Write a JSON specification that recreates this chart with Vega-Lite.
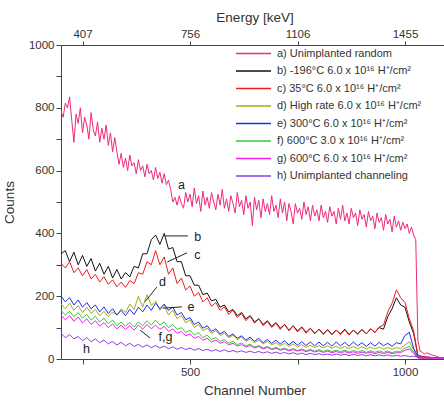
{
  "$schema": "https://vega.github.io/schema/vega-lite/v6.json",
  "width": 387,
  "height": 314,
  "autosize": {"type": "none"},
  "padding": {"left": 61, "top": 45, "right": 0, "bottom": 45},
  "config": {
    "font": "Liberation Sans",
    "view": {"stroke": null},
    "axis": {"grid": false, "domainColor": "#444", "tickColor": "#444", "labelColor": "#333", "titleColor": "#333", "labelFontSize": 11.5, "titleFontSize": 13.5, "titleFontWeight": "normal", "tickSize": 5, "labelFlush": false}
  },
  "datasets": {
    "names": [
      {"s": "a", "label": "a) Unimplanted random"},
      {"s": "b", "label": "b) -196°C 6.0 x 10¹⁶ H⁺/cm²"},
      {"s": "c", "label": "c) 35°C 6.0 x 10¹⁶ H⁺/cm²"},
      {"s": "d", "label": "d) High rate 6.0 x 10¹⁶ H⁺/cm²"},
      {"s": "e", "label": "e) 300°C 6.0 x 10¹⁶ H⁺/cm²"},
      {"s": "f", "label": "f)  600°C 3.0 x 10¹⁶ H⁺/cm²"},
      {"s": "g", "label": "g) 600°C 6.0 x 10¹⁶ H⁺/cm²"},
      {"s": "h", "label": "h) Unimplanted channeling"}
    ],
    "notes": [
      {"c": 472, "n": 554, "t": "a"},
      {"c": 510, "n": 389, "t": "b"},
      {"c": 510, "n": 331, "t": "c"},
      {"c": 428, "n": 245, "t": "d"},
      {"c": 494, "n": 166, "t": "e"},
      {"c": 427, "n": 70, "t": "f,g"},
      {"c": 251, "n": 32, "t": "h"}
    ],
    "arrows": [
      {"c": 495, "n": 392, "c2": 442, "n2": 392},
      {"c": 493, "n": 338, "c2": 447, "n2": 309},
      {"c": 423, "n": 229, "c2": 395, "n2": 182},
      {"c": 481, "n": 166, "c2": 437, "n2": 162},
      {"c": 407, "n": 67, "c2": 384, "n2": 92}
    ],
    "spectra": [
      {"s":"a","c":200,"n":790},{"s":"a","c":205,"n":770},{"s":"a","c":210,"n":815},{"s":"a","c":215,"n":800},{"s":"a","c":220,"n":835},{"s":"a","c":225,"n":760},{"s":"a","c":230,"n":690},{"s":"a","c":235,"n":780},{"s":"a","c":240,"n":750},{"s":"a","c":245,"n":800},
      {"s":"a","c":250,"n":720},{"s":"a","c":255,"n":770},{"s":"a","c":260,"n":745},{"s":"a","c":265,"n":700},{"s":"a","c":270,"n":785},{"s":"a","c":275,"n":730},{"s":"a","c":280,"n":710},{"s":"a","c":285,"n":755},{"s":"a","c":290,"n":690},{"s":"a","c":295,"n":735},
      {"s":"a","c":300,"n":700},{"s":"a","c":305,"n":745},{"s":"a","c":310,"n":680},{"s":"a","c":315,"n":720},{"s":"a","c":320,"n":660},{"s":"a","c":325,"n":705},{"s":"a","c":330,"n":660},{"s":"a","c":335,"n":620},{"s":"a","c":340,"n":655},{"s":"a","c":345,"n":610},
      {"s":"a","c":350,"n":640},{"s":"a","c":355,"n":600},{"s":"a","c":360,"n":650},{"s":"a","c":365,"n":615},{"s":"a","c":370,"n":625},{"s":"a","c":375,"n":590},{"s":"a","c":380,"n":635},{"s":"a","c":385,"n":600},{"s":"a","c":390,"n":615},{"s":"a","c":395,"n":580},
      {"s":"a","c":400,"n":620},{"s":"a","c":405,"n":590},{"s":"a","c":410,"n":600},{"s":"a","c":415,"n":570},{"s":"a","c":420,"n":610},{"s":"a","c":425,"n":575},{"s":"a","c":430,"n":595},{"s":"a","c":435,"n":560},{"s":"a","c":440,"n":590},{"s":"a","c":445,"n":555},
      {"s":"a","c":450,"n":570},{"s":"a","c":455,"n":540},{"s":"a","c":460,"n":500},{"s":"a","c":465,"n":515},{"s":"a","c":470,"n":490},{"s":"a","c":475,"n":520},{"s":"a","c":480,"n":495},{"s":"a","c":485,"n":480},{"s":"a","c":490,"n":530},{"s":"a","c":495,"n":500},
      {"s":"a","c":500,"n":525},{"s":"a","c":505,"n":485},{"s":"a","c":510,"n":545},{"s":"a","c":515,"n":495},{"s":"a","c":520,"n":520},{"s":"a","c":525,"n":470},{"s":"a","c":530,"n":535},{"s":"a","c":535,"n":490},{"s":"a","c":540,"n":515},{"s":"a","c":545,"n":480},
      {"s":"a","c":550,"n":530},{"s":"a","c":555,"n":500},{"s":"a","c":560,"n":475},{"s":"a","c":565,"n":525},{"s":"a","c":570,"n":490},{"s":"a","c":575,"n":540},{"s":"a","c":580,"n":480},{"s":"a","c":585,"n":510},{"s":"a","c":590,"n":470},{"s":"a","c":595,"n":520},
      {"s":"a","c":600,"n":495},{"s":"a","c":605,"n":465},{"s":"a","c":610,"n":530},{"s":"a","c":615,"n":485},{"s":"a","c":620,"n":505},{"s":"a","c":625,"n":460},{"s":"a","c":630,"n":520},{"s":"a","c":635,"n":480},{"s":"a","c":640,"n":500},{"s":"a","c":645,"n":425},
      {"s":"a","c":650,"n":515},{"s":"a","c":655,"n":475},{"s":"a","c":660,"n":505},{"s":"a","c":665,"n":450},{"s":"a","c":670,"n":510},{"s":"a","c":675,"n":470},{"s":"a","c":680,"n":495},{"s":"a","c":685,"n":460},{"s":"a","c":690,"n":520},{"s":"a","c":695,"n":470},
      {"s":"a","c":700,"n":490},{"s":"a","c":705,"n":450},{"s":"a","c":710,"n":510},{"s":"a","c":715,"n":465},{"s":"a","c":720,"n":500},{"s":"a","c":725,"n":440},{"s":"a","c":730,"n":495},{"s":"a","c":735,"n":470},{"s":"a","c":740,"n":430},{"s":"a","c":745,"n":495},
      {"s":"a","c":750,"n":465},{"s":"a","c":755,"n":480},{"s":"a","c":760,"n":445},{"s":"a","c":765,"n":500},{"s":"a","c":770,"n":460},{"s":"a","c":775,"n":485},{"s":"a","c":780,"n":440},{"s":"a","c":785,"n":490},{"s":"a","c":790,"n":455},{"s":"a","c":795,"n":475},
      {"s":"a","c":800,"n":440},{"s":"a","c":805,"n":490},{"s":"a","c":810,"n":450},{"s":"a","c":815,"n":470},{"s":"a","c":820,"n":435},{"s":"a","c":825,"n":485},{"s":"a","c":830,"n":455},{"s":"a","c":835,"n":470},{"s":"a","c":840,"n":430},{"s":"a","c":845,"n":480},
      {"s":"a","c":850,"n":445},{"s":"a","c":855,"n":490},{"s":"a","c":860,"n":440},{"s":"a","c":865,"n":465},{"s":"a","c":870,"n":430},{"s":"a","c":875,"n":480},{"s":"a","c":880,"n":450},{"s":"a","c":885,"n":465},{"s":"a","c":890,"n":425},{"s":"a","c":895,"n":475},
      {"s":"a","c":900,"n":445},{"s":"a","c":905,"n":460},{"s":"a","c":910,"n":420},{"s":"a","c":915,"n":470},{"s":"a","c":920,"n":440},{"s":"a","c":925,"n":455},{"s":"a","c":930,"n":415},{"s":"a","c":935,"n":465},{"s":"a","c":940,"n":435},{"s":"a","c":945,"n":450},
      {"s":"a","c":950,"n":410},{"s":"a","c":955,"n":460},{"s":"a","c":960,"n":430},{"s":"a","c":965,"n":445},{"s":"a","c":970,"n":405},{"s":"a","c":975,"n":455},{"s":"a","c":980,"n":420},{"s":"a","c":985,"n":440},{"s":"a","c":990,"n":410},{"s":"a","c":995,"n":435},
      {"s":"a","c":1000,"n":415},{"s":"a","c":1005,"n":430},{"s":"a","c":1010,"n":400},{"s":"a","c":1015,"n":420},{"s":"a","c":1020,"n":395},{"s":"a","c":1025,"n":380},{"s":"a","c":1030,"n":60},{"s":"a","c":1035,"n":25},{"s":"a","c":1040,"n":22},{"s":"a","c":1045,"n":15},
      {"s":"a","c":1050,"n":20},{"s":"a","c":1060,"n":14},{"s":"a","c":1070,"n":10},{"s":"a","c":1080,"n":5},{"s":"a","c":1090,"n":3},

      {"s":"b","c":200,"n":335},{"s":"b","c":210,"n":345},{"s":"b","c":220,"n":310},{"s":"b","c":230,"n":340},{"s":"b","c":240,"n":300},{"s":"b","c":250,"n":330},{"s":"b","c":260,"n":295},{"s":"b","c":270,"n":320},{"s":"b","c":280,"n":280},{"s":"b","c":290,"n":305},
      {"s":"b","c":300,"n":270},{"s":"b","c":310,"n":295},{"s":"b","c":320,"n":258},{"s":"b","c":330,"n":285},{"s":"b","c":340,"n":255},{"s":"b","c":350,"n":275},{"s":"b","c":360,"n":262},{"s":"b","c":370,"n":295},{"s":"b","c":380,"n":290},{"s":"b","c":390,"n":335},
      {"s":"b","c":400,"n":335},{"s":"b","c":410,"n":380},{"s":"b","c":420,"n":395},{"s":"b","c":430,"n":365},{"s":"b","c":440,"n":400},{"s":"b","c":450,"n":350},{"s":"b","c":460,"n":355},{"s":"b","c":470,"n":310},{"s":"b","c":480,"n":310},{"s":"b","c":490,"n":265},
      {"s":"b","c":500,"n":265},{"s":"b","c":510,"n":235},{"s":"b","c":520,"n":235},{"s":"b","c":530,"n":205},{"s":"b","c":540,"n":210},{"s":"b","c":550,"n":185},{"s":"b","c":560,"n":190},{"s":"b","c":570,"n":165},{"s":"b","c":580,"n":172},{"s":"b","c":590,"n":150},
      {"s":"b","c":600,"n":158},{"s":"b","c":610,"n":138},{"s":"b","c":620,"n":148},{"s":"b","c":630,"n":128},{"s":"b","c":640,"n":138},{"s":"b","c":650,"n":118},{"s":"b","c":660,"n":128},{"s":"b","c":670,"n":110},{"s":"b","c":680,"n":122},{"s":"b","c":690,"n":104},
      {"s":"b","c":700,"n":116},{"s":"b","c":710,"n":98},{"s":"b","c":720,"n":110},{"s":"b","c":730,"n":92},{"s":"b","c":740,"n":106},{"s":"b","c":750,"n":90},{"s":"b","c":760,"n":102},{"s":"b","c":770,"n":85},{"s":"b","c":780,"n":98},{"s":"b","c":790,"n":82},
      {"s":"b","c":800,"n":95},{"s":"b","c":810,"n":80},{"s":"b","c":820,"n":94},{"s":"b","c":830,"n":78},{"s":"b","c":840,"n":92},{"s":"b","c":850,"n":80},{"s":"b","c":860,"n":95},{"s":"b","c":870,"n":78},{"s":"b","c":880,"n":92},{"s":"b","c":890,"n":80},
      {"s":"b","c":900,"n":94},{"s":"b","c":910,"n":80},{"s":"b","c":920,"n":96},{"s":"b","c":930,"n":85},{"s":"b","c":940,"n":100},{"s":"b","c":950,"n":95},{"s":"b","c":960,"n":135},{"s":"b","c":970,"n":160},{"s":"b","c":980,"n":195},{"s":"b","c":990,"n":172},
      {"s":"b","c":1000,"n":165},{"s":"b","c":1010,"n":118},{"s":"b","c":1020,"n":82},{"s":"b","c":1030,"n":10},{"s":"b","c":1040,"n":8},{"s":"b","c":1050,"n":6},{"s":"b","c":1060,"n":5},{"s":"b","c":1070,"n":4},{"s":"b","c":1080,"n":3},{"s":"b","c":1090,"n":2},

      {"s":"c","c":200,"n":305},{"s":"c","c":210,"n":290},{"s":"c","c":220,"n":310},{"s":"c","c":230,"n":275},{"s":"c","c":240,"n":290},{"s":"c","c":250,"n":265},{"s":"c","c":260,"n":285},{"s":"c","c":270,"n":255},{"s":"c","c":280,"n":270},{"s":"c","c":290,"n":245},
      {"s":"c","c":300,"n":262},{"s":"c","c":310,"n":238},{"s":"c","c":320,"n":252},{"s":"c","c":330,"n":230},{"s":"c","c":340,"n":245},{"s":"c","c":350,"n":228},{"s":"c","c":360,"n":250},{"s":"c","c":370,"n":240},{"s":"c","c":380,"n":275},{"s":"c","c":390,"n":270},
      {"s":"c","c":400,"n":310},{"s":"c","c":410,"n":300},{"s":"c","c":420,"n":345},{"s":"c","c":430,"n":300},{"s":"c","c":440,"n":325},{"s":"c","c":450,"n":270},{"s":"c","c":460,"n":290},{"s":"c","c":470,"n":240},{"s":"c","c":480,"n":258},{"s":"c","c":490,"n":220},
      {"s":"c","c":500,"n":232},{"s":"c","c":510,"n":200},{"s":"c","c":520,"n":212},{"s":"c","c":530,"n":182},{"s":"c","c":540,"n":195},{"s":"c","c":550,"n":168},{"s":"c","c":560,"n":180},{"s":"c","c":570,"n":155},{"s":"c","c":580,"n":166},{"s":"c","c":590,"n":142},
      {"s":"c","c":600,"n":155},{"s":"c","c":610,"n":132},{"s":"c","c":620,"n":145},{"s":"c","c":630,"n":122},{"s":"c","c":640,"n":136},{"s":"c","c":650,"n":114},{"s":"c","c":660,"n":128},{"s":"c","c":670,"n":106},{"s":"c","c":680,"n":120},{"s":"c","c":690,"n":100},
      {"s":"c","c":700,"n":114},{"s":"c","c":710,"n":94},{"s":"c","c":720,"n":110},{"s":"c","c":730,"n":90},{"s":"c","c":740,"n":105},{"s":"c","c":750,"n":86},{"s":"c","c":760,"n":100},{"s":"c","c":770,"n":82},{"s":"c","c":780,"n":97},{"s":"c","c":790,"n":80},
      {"s":"c","c":800,"n":95},{"s":"c","c":810,"n":78},{"s":"c","c":820,"n":93},{"s":"c","c":830,"n":77},{"s":"c","c":840,"n":92},{"s":"c","c":850,"n":78},{"s":"c","c":860,"n":93},{"s":"c","c":870,"n":76},{"s":"c","c":880,"n":92},{"s":"c","c":890,"n":78},
      {"s":"c","c":900,"n":94},{"s":"c","c":910,"n":80},{"s":"c","c":920,"n":96},{"s":"c","c":930,"n":84},{"s":"c","c":940,"n":102},{"s":"c","c":950,"n":108},{"s":"c","c":960,"n":150},{"s":"c","c":970,"n":178},{"s":"c","c":980,"n":220},{"s":"c","c":990,"n":195},
      {"s":"c","c":1000,"n":180},{"s":"c","c":1010,"n":128},{"s":"c","c":1020,"n":90},{"s":"c","c":1030,"n":12},{"s":"c","c":1040,"n":8},{"s":"c","c":1050,"n":6},{"s":"c","c":1060,"n":5},{"s":"c","c":1070,"n":4},{"s":"c","c":1080,"n":3},{"s":"c","c":1090,"n":2},

      {"s":"d","c":200,"n":175},{"s":"d","c":210,"n":160},{"s":"d","c":220,"n":178},{"s":"d","c":230,"n":155},{"s":"d","c":240,"n":170},{"s":"d","c":250,"n":148},{"s":"d","c":260,"n":165},{"s":"d","c":270,"n":145},{"s":"d","c":280,"n":158},{"s":"d","c":290,"n":138},
      {"s":"d","c":300,"n":152},{"s":"d","c":310,"n":135},{"s":"d","c":320,"n":150},{"s":"d","c":330,"n":140},{"s":"d","c":340,"n":160},{"s":"d","c":350,"n":148},{"s":"d","c":360,"n":175},{"s":"d","c":370,"n":158},{"s":"d","c":380,"n":200},{"s":"d","c":390,"n":165},
      {"s":"d","c":400,"n":205},{"s":"d","c":410,"n":170},{"s":"d","c":420,"n":185},{"s":"d","c":430,"n":155},{"s":"d","c":440,"n":172},{"s":"d","c":450,"n":140},{"s":"d","c":460,"n":155},{"s":"d","c":470,"n":128},{"s":"d","c":480,"n":138},{"s":"d","c":490,"n":115},
      {"s":"d","c":500,"n":125},{"s":"d","c":510,"n":100},{"s":"d","c":520,"n":110},{"s":"d","c":530,"n":90},{"s":"d","c":540,"n":98},{"s":"d","c":550,"n":82},{"s":"d","c":560,"n":90},{"s":"d","c":570,"n":75},{"s":"d","c":580,"n":82},{"s":"d","c":590,"n":68},
      {"s":"d","c":600,"n":76},{"s":"d","c":610,"n":62},{"s":"d","c":620,"n":70},{"s":"d","c":630,"n":56},{"s":"d","c":640,"n":64},{"s":"d","c":650,"n":52},{"s":"d","c":660,"n":60},{"s":"d","c":670,"n":48},{"s":"d","c":680,"n":56},{"s":"d","c":690,"n":45},
      {"s":"d","c":700,"n":52},{"s":"d","c":710,"n":42},{"s":"d","c":720,"n":50},{"s":"d","c":730,"n":40},{"s":"d","c":740,"n":48},{"s":"d","c":750,"n":38},{"s":"d","c":760,"n":46},{"s":"d","c":770,"n":37},{"s":"d","c":780,"n":44},{"s":"d","c":790,"n":36},
      {"s":"d","c":800,"n":43},{"s":"d","c":810,"n":35},{"s":"d","c":820,"n":42},{"s":"d","c":830,"n":34},{"s":"d","c":840,"n":41},{"s":"d","c":850,"n":34},{"s":"d","c":860,"n":40},{"s":"d","c":870,"n":33},{"s":"d","c":880,"n":40},{"s":"d","c":890,"n":33},
      {"s":"d","c":900,"n":39},{"s":"d","c":910,"n":32},{"s":"d","c":920,"n":38},{"s":"d","c":930,"n":32},{"s":"d","c":940,"n":38},{"s":"d","c":950,"n":31},{"s":"d","c":960,"n":37},{"s":"d","c":970,"n":31},{"s":"d","c":980,"n":36},{"s":"d","c":990,"n":34},
      {"s":"d","c":1000,"n":45},{"s":"d","c":1010,"n":55},{"s":"d","c":1020,"n":30},{"s":"d","c":1030,"n":5},{"s":"d","c":1040,"n":3},{"s":"d","c":1050,"n":3},{"s":"d","c":1060,"n":3},{"s":"d","c":1070,"n":3},{"s":"d","c":1080,"n":3},{"s":"d","c":1090,"n":3},

      {"s":"e","c":200,"n":200},{"s":"e","c":210,"n":182},{"s":"e","c":220,"n":195},{"s":"e","c":230,"n":172},{"s":"e","c":240,"n":188},{"s":"e","c":250,"n":165},{"s":"e","c":260,"n":180},{"s":"e","c":270,"n":160},{"s":"e","c":280,"n":172},{"s":"e","c":290,"n":150},
      {"s":"e","c":300,"n":166},{"s":"e","c":310,"n":145},{"s":"e","c":320,"n":160},{"s":"e","c":330,"n":140},{"s":"e","c":340,"n":155},{"s":"e","c":350,"n":138},{"s":"e","c":360,"n":158},{"s":"e","c":370,"n":142},{"s":"e","c":380,"n":165},{"s":"e","c":390,"n":150},
      {"s":"e","c":400,"n":172},{"s":"e","c":410,"n":155},{"s":"e","c":420,"n":178},{"s":"e","c":430,"n":160},{"s":"e","c":440,"n":175},{"s":"e","c":450,"n":155},{"s":"e","c":460,"n":165},{"s":"e","c":470,"n":140},{"s":"e","c":480,"n":148},{"s":"e","c":490,"n":125},
      {"s":"e","c":500,"n":132},{"s":"e","c":510,"n":110},{"s":"e","c":520,"n":118},{"s":"e","c":530,"n":98},{"s":"e","c":540,"n":106},{"s":"e","c":550,"n":88},{"s":"e","c":560,"n":96},{"s":"e","c":570,"n":80},{"s":"e","c":580,"n":88},{"s":"e","c":590,"n":72},
      {"s":"e","c":600,"n":80},{"s":"e","c":610,"n":66},{"s":"e","c":620,"n":74},{"s":"e","c":630,"n":60},{"s":"e","c":640,"n":70},{"s":"e","c":650,"n":56},{"s":"e","c":660,"n":66},{"s":"e","c":670,"n":52},{"s":"e","c":680,"n":62},{"s":"e","c":690,"n":50},
      {"s":"e","c":700,"n":60},{"s":"e","c":710,"n":48},{"s":"e","c":720,"n":58},{"s":"e","c":730,"n":45},{"s":"e","c":740,"n":56},{"s":"e","c":750,"n":44},{"s":"e","c":760,"n":55},{"s":"e","c":770,"n":43},{"s":"e","c":780,"n":54},{"s":"e","c":790,"n":42},
      {"s":"e","c":800,"n":54},{"s":"e","c":810,"n":42},{"s":"e","c":820,"n":53},{"s":"e","c":830,"n":41},{"s":"e","c":840,"n":54},{"s":"e","c":850,"n":42},{"s":"e","c":860,"n":53},{"s":"e","c":870,"n":41},{"s":"e","c":880,"n":54},{"s":"e","c":890,"n":42},
      {"s":"e","c":900,"n":52},{"s":"e","c":910,"n":40},{"s":"e","c":920,"n":52},{"s":"e","c":930,"n":41},{"s":"e","c":940,"n":53},{"s":"e","c":950,"n":42},{"s":"e","c":960,"n":50},{"s":"e","c":970,"n":40},{"s":"e","c":980,"n":52},{"s":"e","c":990,"n":48},
      {"s":"e","c":1000,"n":75},{"s":"e","c":1010,"n":85},{"s":"e","c":1020,"n":35},{"s":"e","c":1030,"n":6},{"s":"e","c":1040,"n":3},{"s":"e","c":1050,"n":3},{"s":"e","c":1060,"n":3},{"s":"e","c":1070,"n":3},{"s":"e","c":1080,"n":3},{"s":"e","c":1090,"n":3},

      {"s":"f","c":200,"n":155},{"s":"f","c":210,"n":140},{"s":"f","c":220,"n":152},{"s":"f","c":230,"n":135},{"s":"f","c":240,"n":148},{"s":"f","c":250,"n":130},{"s":"f","c":260,"n":142},{"s":"f","c":270,"n":124},{"s":"f","c":280,"n":136},{"s":"f","c":290,"n":118},
      {"s":"f","c":300,"n":130},{"s":"f","c":310,"n":112},{"s":"f","c":320,"n":124},{"s":"f","c":330,"n":106},{"s":"f","c":340,"n":118},{"s":"f","c":350,"n":104},{"s":"f","c":360,"n":116},{"s":"f","c":370,"n":102},{"s":"f","c":380,"n":118},{"s":"f","c":390,"n":106},
      {"s":"f","c":400,"n":122},{"s":"f","c":410,"n":108},{"s":"f","c":420,"n":124},{"s":"f","c":430,"n":108},{"s":"f","c":440,"n":118},{"s":"f","c":450,"n":100},{"s":"f","c":460,"n":110},{"s":"f","c":470,"n":94},{"s":"f","c":480,"n":100},{"s":"f","c":490,"n":84},
      {"s":"f","c":500,"n":92},{"s":"f","c":510,"n":76},{"s":"f","c":520,"n":84},{"s":"f","c":530,"n":68},{"s":"f","c":540,"n":76},{"s":"f","c":550,"n":62},{"s":"f","c":560,"n":68},{"s":"f","c":570,"n":56},{"s":"f","c":580,"n":62},{"s":"f","c":590,"n":50},
      {"s":"f","c":600,"n":56},{"s":"f","c":610,"n":46},{"s":"f","c":620,"n":51},{"s":"f","c":630,"n":42},{"s":"f","c":640,"n":47},{"s":"f","c":650,"n":38},{"s":"f","c":660,"n":43},{"s":"f","c":670,"n":35},{"s":"f","c":680,"n":40},{"s":"f","c":690,"n":32},
      {"s":"f","c":700,"n":37},{"s":"f","c":710,"n":30},{"s":"f","c":720,"n":35},{"s":"f","c":730,"n":28},{"s":"f","c":740,"n":33},{"s":"f","c":750,"n":27},{"s":"f","c":760,"n":32},{"s":"f","c":770,"n":26},{"s":"f","c":780,"n":31},{"s":"f","c":790,"n":25},
      {"s":"f","c":800,"n":30},{"s":"f","c":810,"n":24},{"s":"f","c":820,"n":29},{"s":"f","c":830,"n":23},{"s":"f","c":840,"n":28},{"s":"f","c":850,"n":23},{"s":"f","c":860,"n":28},{"s":"f","c":870,"n":22},{"s":"f","c":880,"n":27},{"s":"f","c":890,"n":22},
      {"s":"f","c":900,"n":27},{"s":"f","c":910,"n":21},{"s":"f","c":920,"n":26},{"s":"f","c":930,"n":21},{"s":"f","c":940,"n":26},{"s":"f","c":950,"n":21},{"s":"f","c":960,"n":25},{"s":"f","c":970,"n":20},{"s":"f","c":980,"n":25},{"s":"f","c":990,"n":24},
      {"s":"f","c":1000,"n":35},{"s":"f","c":1010,"n":40},{"s":"f","c":1020,"n":22},{"s":"f","c":1030,"n":4},{"s":"f","c":1040,"n":2},{"s":"f","c":1050,"n":2},{"s":"f","c":1060,"n":2},{"s":"f","c":1070,"n":2},{"s":"f","c":1080,"n":2},{"s":"f","c":1090,"n":2},

      {"s":"g","c":200,"n":140},{"s":"g","c":210,"n":125},{"s":"g","c":220,"n":138},{"s":"g","c":230,"n":120},{"s":"g","c":240,"n":134},{"s":"g","c":250,"n":115},{"s":"g","c":260,"n":128},{"s":"g","c":270,"n":110},{"s":"g","c":280,"n":122},{"s":"g","c":290,"n":105},
      {"s":"g","c":300,"n":116},{"s":"g","c":310,"n":100},{"s":"g","c":320,"n":112},{"s":"g","c":330,"n":96},{"s":"g","c":340,"n":108},{"s":"g","c":350,"n":94},{"s":"g","c":360,"n":106},{"s":"g","c":370,"n":92},{"s":"g","c":380,"n":108},{"s":"g","c":390,"n":95},
      {"s":"g","c":400,"n":110},{"s":"g","c":410,"n":96},{"s":"g","c":420,"n":108},{"s":"g","c":430,"n":94},{"s":"g","c":440,"n":104},{"s":"g","c":450,"n":88},{"s":"g","c":460,"n":96},{"s":"g","c":470,"n":82},{"s":"g","c":480,"n":88},{"s":"g","c":490,"n":74},
      {"s":"g","c":500,"n":80},{"s":"g","c":510,"n":66},{"s":"g","c":520,"n":72},{"s":"g","c":530,"n":60},{"s":"g","c":540,"n":66},{"s":"g","c":550,"n":54},{"s":"g","c":560,"n":60},{"s":"g","c":570,"n":50},{"s":"g","c":580,"n":55},{"s":"g","c":590,"n":45},
      {"s":"g","c":600,"n":50},{"s":"g","c":610,"n":41},{"s":"g","c":620,"n":46},{"s":"g","c":630,"n":38},{"s":"g","c":640,"n":43},{"s":"g","c":650,"n":35},{"s":"g","c":660,"n":40},{"s":"g","c":670,"n":32},{"s":"g","c":680,"n":37},{"s":"g","c":690,"n":30},
      {"s":"g","c":700,"n":34},{"s":"g","c":710,"n":28},{"s":"g","c":720,"n":32},{"s":"g","c":730,"n":26},{"s":"g","c":740,"n":30},{"s":"g","c":750,"n":25},{"s":"g","c":760,"n":29},{"s":"g","c":770,"n":23},{"s":"g","c":780,"n":28},{"s":"g","c":790,"n":22},
      {"s":"g","c":800,"n":26},{"s":"g","c":810,"n":21},{"s":"g","c":820,"n":25},{"s":"g","c":830,"n":20},{"s":"g","c":840,"n":24},{"s":"g","c":850,"n":19},{"s":"g","c":860,"n":24},{"s":"g","c":870,"n":19},{"s":"g","c":880,"n":23},{"s":"g","c":890,"n":18},
      {"s":"g","c":900,"n":22},{"s":"g","c":910,"n":18},{"s":"g","c":920,"n":22},{"s":"g","c":930,"n":17},{"s":"g","c":940,"n":21},{"s":"g","c":950,"n":17},{"s":"g","c":960,"n":21},{"s":"g","c":970,"n":17},{"s":"g","c":980,"n":20},{"s":"g","c":990,"n":20},
      {"s":"g","c":1000,"n":28},{"s":"g","c":1010,"n":32},{"s":"g","c":1020,"n":18},{"s":"g","c":1030,"n":3},{"s":"g","c":1040,"n":2},{"s":"g","c":1050,"n":2},{"s":"g","c":1060,"n":2},{"s":"g","c":1070,"n":2},{"s":"g","c":1080,"n":2},{"s":"g","c":1090,"n":2},

      {"s":"h","c":200,"n":82},{"s":"h","c":210,"n":68},{"s":"h","c":220,"n":78},{"s":"h","c":230,"n":64},{"s":"h","c":240,"n":72},{"s":"h","c":250,"n":58},{"s":"h","c":260,"n":68},{"s":"h","c":270,"n":55},{"s":"h","c":280,"n":64},{"s":"h","c":290,"n":52},
      {"s":"h","c":300,"n":60},{"s":"h","c":310,"n":48},{"s":"h","c":320,"n":56},{"s":"h","c":330,"n":45},{"s":"h","c":340,"n":53},{"s":"h","c":350,"n":42},{"s":"h","c":360,"n":50},{"s":"h","c":370,"n":40},{"s":"h","c":380,"n":47},{"s":"h","c":390,"n":38},
      {"s":"h","c":400,"n":45},{"s":"h","c":410,"n":36},{"s":"h","c":420,"n":43},{"s":"h","c":430,"n":35},{"s":"h","c":440,"n":41},{"s":"h","c":450,"n":33},{"s":"h","c":460,"n":39},{"s":"h","c":470,"n":31},{"s":"h","c":480,"n":37},{"s":"h","c":490,"n":30},
      {"s":"h","c":500,"n":35},{"s":"h","c":510,"n":28},{"s":"h","c":520,"n":33},{"s":"h","c":530,"n":27},{"s":"h","c":540,"n":31},{"s":"h","c":550,"n":25},{"s":"h","c":560,"n":30},{"s":"h","c":570,"n":24},{"s":"h","c":580,"n":29},{"s":"h","c":590,"n":23},
      {"s":"h","c":600,"n":27},{"s":"h","c":610,"n":22},{"s":"h","c":620,"n":26},{"s":"h","c":630,"n":21},{"s":"h","c":640,"n":25},{"s":"h","c":650,"n":20},{"s":"h","c":660,"n":24},{"s":"h","c":670,"n":19},{"s":"h","c":680,"n":23},{"s":"h","c":690,"n":18},
      {"s":"h","c":700,"n":22},{"s":"h","c":710,"n":17},{"s":"h","c":720,"n":21},{"s":"h","c":730,"n":16},{"s":"h","c":740,"n":20},{"s":"h","c":750,"n":15},{"s":"h","c":760,"n":19},{"s":"h","c":770,"n":14},{"s":"h","c":780,"n":18},{"s":"h","c":790,"n":14},
      {"s":"h","c":800,"n":17},{"s":"h","c":810,"n":13},{"s":"h","c":820,"n":16},{"s":"h","c":830,"n":12},{"s":"h","c":840,"n":16},{"s":"h","c":850,"n":12},{"s":"h","c":860,"n":15},{"s":"h","c":870,"n":11},{"s":"h","c":880,"n":15},{"s":"h","c":890,"n":11},
      {"s":"h","c":900,"n":14},{"s":"h","c":910,"n":10},{"s":"h","c":920,"n":14},{"s":"h","c":930,"n":10},{"s":"h","c":940,"n":13},{"s":"h","c":950,"n":10},{"s":"h","c":960,"n":13},{"s":"h","c":970,"n":9},{"s":"h","c":980,"n":12},{"s":"h","c":990,"n":9},
      {"s":"h","c":1000,"n":11},{"s":"h","c":1010,"n":8},{"s":"h","c":1020,"n":9},{"s":"h","c":1030,"n":6},{"s":"h","c":1040,"n":6},{"s":"h","c":1050,"n":5},{"s":"h","c":1060,"n":5},{"s":"h","c":1070,"n":4},{"s":"h","c":1080,"n":5},{"s":"h","c":1090,"n":4}
    ]
  },
  "encoding": {
    "y": {
      "field": "n", "type": "quantitative",
      "scale": {"domain": [0, 1000], "nice": false},
      "axis": {"title": "Counts", "values": [0,100,200,300,400,500,600,700,800,900,1000], "format": "d", "labelExpr": "datum.value % 200 == 0 ? datum.label : ''", "titlePadding": 12}
    }
  },
  "layer": [
    {
      "data": {"name": "spectra"},
      "transform": [{"lookup": "s", "from": {"data": {"name": "names"}, "key": "s", "fields": ["label"]}}],
      "mark": {"type": "line", "strokeWidth": 1, "clip": true},
      "encoding": {
        "x": {"field": "c", "type": "quantitative", "scale": {"domain": [200, 1100], "nice": false, "zero": false},
              "axis": {"orient": "bottom", "title": "Channel Number", "values": [250, 500, 750, 1000], "format": "d", "labelExpr": "datum.value % 500 == 0 ? datum.label : ''", "titlePadding": 6}},
        "color": {
          "field": "label", "type": "nominal",
          "scale": {
            "domain": ["a) Unimplanted random", "b) -196°C 6.0 x 10¹⁶ H⁺/cm²", "c) 35°C 6.0 x 10¹⁶ H⁺/cm²", "d) High rate 6.0 x 10¹⁶ H⁺/cm²", "e) 300°C 6.0 x 10¹⁶ H⁺/cm²", "f)  600°C 3.0 x 10¹⁶ H⁺/cm²", "g) 600°C 6.0 x 10¹⁶ H⁺/cm²", "h) Unimplanted channeling"],
            "range": ["#ee2a7b", "#111111", "#ee1c1c", "#a8a820", "#1f2ee8", "#33cc33", "#ee22ee", "#8a3ee8"]
          },
          "legend": {"title": null, "orient": "none", "legendX": 187, "legendY": 3, "symbolType": "M-5,0H5", "symbolSize": 49, "symbolStrokeWidth": 1.3, "labelFontSize": 11, "labelColor": "#333", "rowPadding": 5.5, "labelOffset": 18, "padding": 0}
        }
      }
    },
    {
      "data": {"name": "arrows"},
      "mark": {"type": "rule", "color": "#222", "strokeWidth": 1},
      "encoding": {
        "x": {"field": "c", "type": "quantitative", "axis": null},
        "x2": {"field": "c2"},
        "y2": {"field": "n2"}
      }
    },
    {
      "data": {"name": "notes"},
      "mark": {"type": "text", "fontSize": 12.5, "color": "#222", "align": "left", "baseline": "middle"},
      "encoding": {
        "x": {"field": "c", "type": "quantitative",
              "axis": {"orient": "top", "title": "Energy [keV]", "values": [250, 500, 750, 1000], "labelExpr": "datum.value == 250 ? '407' : datum.value == 500 ? '756' : datum.value == 750 ? '1106' : '1455'", "tickSize": 4, "titlePadding": 4}},
        "text": {"field": "t"}
      }
    }
  ],
  "resolve": {"axis": {"x": "independent"}}
}
